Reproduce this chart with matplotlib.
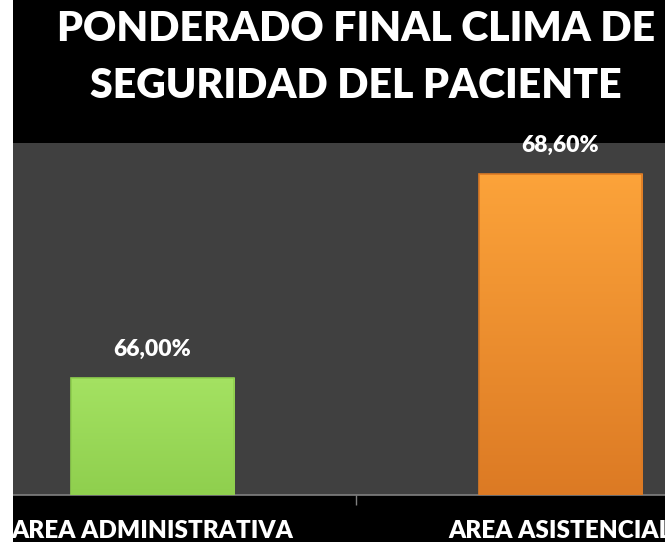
import matplotlib.pyplot as plt
import numpy as np
from matplotlib.patches import Rectangle
from matplotlib.colors import LinearSegmentedColormap

# Data
categorias = ['AREA ADMINISTRATIVA', 'AREA ASISTENCIAL']
valores = [66.00, 68.60]
etiquetas = ['66,00%', '68,60%']
colores_claro = ['#a4e262', '#fca33a']
colores_oscuro = ['#8fcf4e', '#dc7a24']

plt.rcParams['font.family'] = ['Lato', 'DejaVu Sans']

W, H = 665, 542
fig = plt.figure(figsize=(W / 100, H / 100), dpi=100, facecolor='black')

# thin white strip on the left edge
fig.patches.append(Rectangle((0, 0), 13 / W, 1, transform=fig.transFigure,
                             facecolor='white', edgecolor='none', zorder=0))

ax = fig.add_axes([13 / W, 47 / H, 652 / W, 352 / H])
ax.set_facecolor('#404040')

x = np.arange(len(categorias))
ancho = 0.4
barras = ax.bar(x, valores, width=ancho, bottom=0, color=colores_claro,
                edgecolor='none', zorder=2)

ax.set_xlim(-0.341, 1.257)
ax.set_ylim(64.5, 69.0)

# vertical gradient on each bar for the bevelled look
for b, c1, c2 in zip(barras, colores_claro, colores_oscuro):
    cmap = LinearSegmentedColormap.from_list('g', [c2, c1])
    x0, w = b.get_x(), b.get_width()
    grad = np.linspace(0, 1, 256).reshape(-1, 1)
    im = ax.imshow(grad, cmap=cmap, aspect='auto', origin='lower',
                   extent=[x0, x0 + w, 64.5, b.get_height()], zorder=3)
    im.set_clip_path(b)
    # edge highlight
    ax.add_patch(Rectangle((x0, 64.5), w, b.get_height() - 64.5,
                           facecolor='none', edgecolor=c2, linewidth=1.2, zorder=4))
    ax.plot([x0 + 0.01, x0 + w - 0.01], [b.get_height() - 0.03] * 2,
            color=c1, lw=2, alpha=0.6, zorder=5)

# value labels above the bars
for xi, v, t in zip(x, valores, etiquetas):
    ax.annotate(t, xy=(xi, v), xytext=(0, 13), textcoords='offset points',
                ha='center', va='bottom', color='white', fontsize=16.5,
                fontweight='heavy', annotation_clip=False, clip_on=False)

ax.set_yticks([])
ax.set_xticks([0.5])
ax.set_xticklabels([''])
ax.tick_params(axis='x', direction='out', length=7, width=1, color='#808080')
for s in ['top', 'right', 'left']:
    ax.spines[s].set_visible(False)
ax.spines['bottom'].set_color('#808080')
ax.spines['bottom'].set_linewidth(1.2)

# category labels under the axis
for xi, cat in zip(x, categorias):
    ax.text(xi, -25 / 352, cat, transform=ax.get_xaxis_transform(),
            ha='center', va='top', color='white', fontsize=17.5,
            fontweight='heavy', clip_on=False)

fig.text(356 / W, 1 - 29 / H, 'PONDERADO FINAL CLIMA DE', ha='center',
         va='center', color='white', fontsize=29.5, fontweight='heavy')
fig.text(356 / W, 1 - 86 / H, 'SEGURIDAD DEL PACIENTE', ha='center',
         va='center', color='white', fontsize=29.5, fontweight='heavy')

fig.savefig('out.png', dpi=100, facecolor=fig.get_facecolor())
